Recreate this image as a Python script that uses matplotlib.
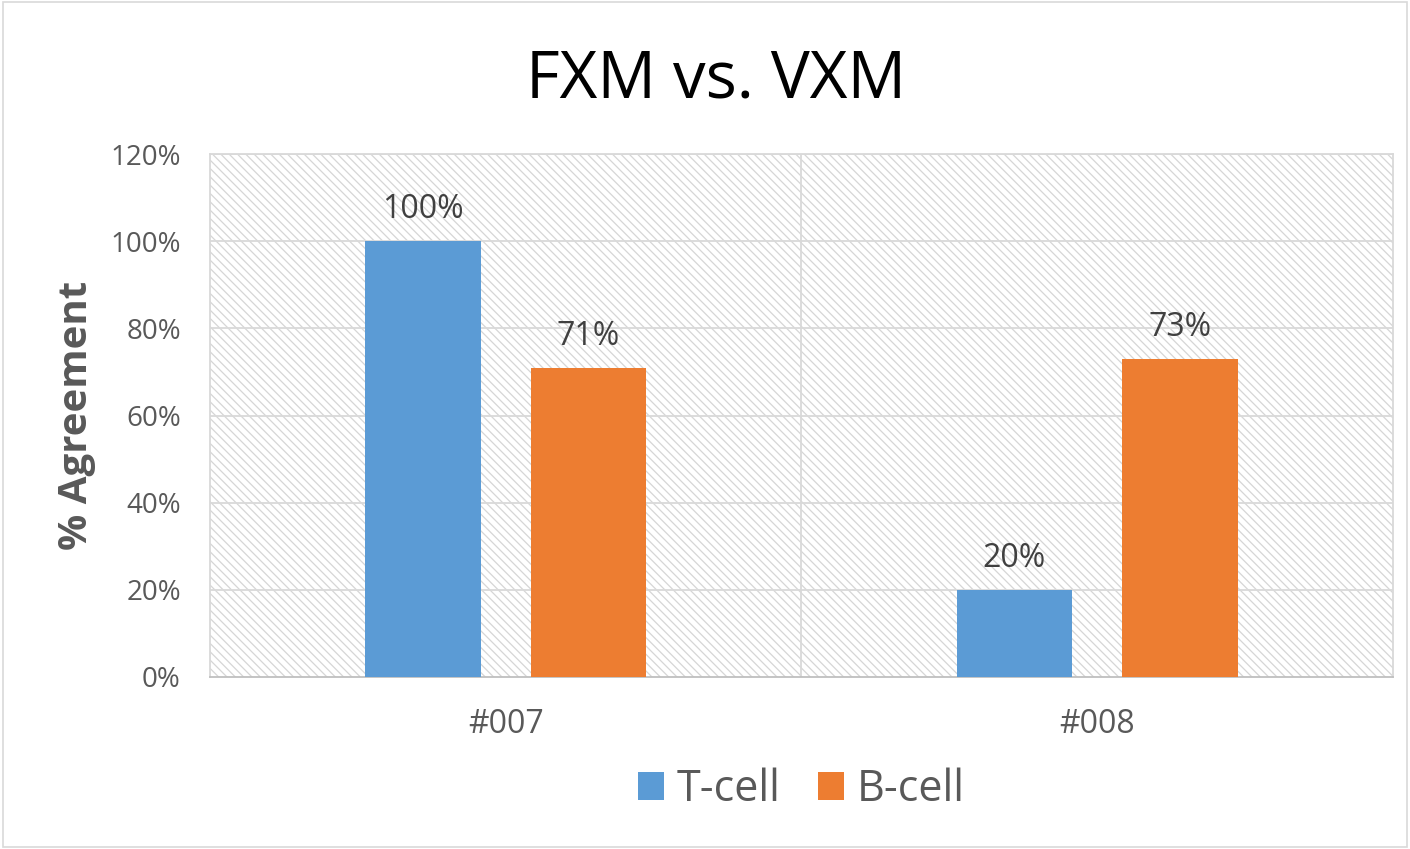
import matplotlib.pyplot as plt
from matplotlib.patches import Rectangle
import numpy as np

plt.rcParams['font.family'] = ['Open Sans', 'DejaVu Sans']
plt.rcParams['hatch.color'] = '#d6d6d6'
plt.rcParams['hatch.linewidth'] = 0.9

categories = ['#007', '#008']
series = ['T-cell', 'B-cell']
tcell = [100, 20]
bcell = [71, 73]
colors = ['#5b9bd5', '#ed7d31']
yticks = [0, 20, 40, 60, 80, 100, 120]

fig = plt.figure(figsize=(14.1, 8.49), dpi=100)
ax = fig.add_axes([0.1489, 0.2026, 0.8390, 0.616])

# hatched plot background
ax.add_patch(Rectangle((0, 0), 1, 1, transform=ax.transAxes, facecolor='white',
                       edgecolor='#d6d6d6', hatch='\\\\\\\\', linewidth=0, zorder=0))

x = np.arange(len(categories))
width = 0.195
offset = 0.14
for vals, off, name, col in zip([tcell, bcell], [-offset, offset], series, colors):
    bars = ax.bar(x + off, vals, width, color=col, label=name, zorder=3)
    for b, v in zip(bars, vals):
        ax.annotate(f'{v}%', (b.get_x() + b.get_width() / 2, v), xytext=(0, 16.5),
                    textcoords='offset points', ha='center', va='baseline',
                    fontsize=23, color='#404040', zorder=4)

ax.set_xlim(-0.5, 1.5)
ax.set_ylim(0, 120)
ax.set_yticks(yticks)
ax.set_yticklabels([f'{t}%' for t in yticks], fontsize=20, color='#595959')
ax.set_xticks(x)
ax.set_xticklabels(categories, fontsize=23, color='#595959')
ax.tick_params(length=0)
ax.tick_params(axis='y', pad=21)
ax.tick_params(axis='x', pad=22)

for t in yticks[1:]:
    ax.axhline(t, color='#d9d9d9', lw=1.3, zorder=1)
ax.axvline(0.5, color='#d9d9d9', lw=1.3, zorder=1)
for s in ['top', 'right', 'left']:
    ax.spines[s].set_color('#d9d9d9')
    ax.spines[s].set_linewidth(1.3)
ax.spines['bottom'].set_color('#bfbfbf')
ax.spines['bottom'].set_linewidth(1.3)

fig.text(77 / 1410, 1 - 415.5 / 849, '% Agreement', rotation=90, ha='center', va='center',
         fontsize=29, fontweight='bold', color='#595959')

fig.text(0.5075, 1 - 97 / 849, 'FXM vs. VXM', ha='center', va='baseline', fontsize=47,
         color='black')

ax.legend(loc='center', bbox_to_anchor=(0.5, -0.216), ncol=2, frameon=False,
          fontsize=31, handlelength=0.6, handleheight=0.6, handletextpad=0.3,
          columnspacing=0.86, labelcolor='#595959')

# outer chart border
fig.add_artist(Rectangle((0.002, 0.002), 0.996, 0.996, transform=fig.transFigure,
                         fill=False, edgecolor='#d9d9d9', lw=1.2))

fig.savefig('out.png', dpi=100)
